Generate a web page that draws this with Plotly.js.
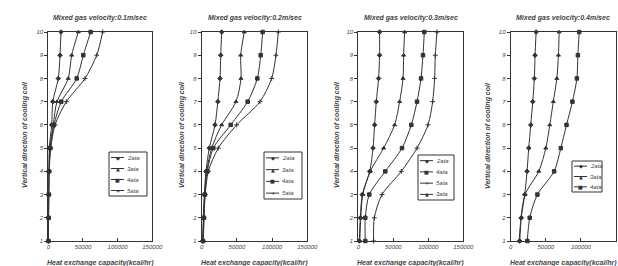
<!DOCTYPE html>
<html><head><meta charset="utf-8">
<script src="https://cdn.plot.ly/plotly-3.0.1.min.js"></script>
<style>html,body{margin:0;padding:0;background:#fff;}#chart{width:618px;height:266px;}</style>
</head><body><div id="chart"></div>
<script>
// ---------- data ----------
const coilPositions = [1, 2, 3, 4, 5, 6, 7, 8, 9, 10];
const xTickValues = [0, 50000, 100000, 150000];
const xTickLabels = ['0', '50000', '100000', '150000'];
const yTickValues = [1, 2, 3, 4, 5, 6, 7, 8, 9, 10];
const panelTitles = ['Mixed gas velocity:0.1m/sec', 'Mixed gas velocity:0.2m/sec',
                     'Mixed gas velocity:0.3m/sec', 'Mixed gas velocity:0.4m/sec'];
const xAxisTitle = 'Heat exchange capacity(kcal/hr)';
const yAxisTitle = 'Vertical direction of cooling coil';

// panel 1: 0.1 m/sec
const p1Names = ['2ata', '3ata', '4ata', '5ata'];
const p1_2ata = [200, 300, 400, 700, 1400, 4900, 6500, 14400, 16900, 18300];
const p1_3ata = [200, 300, 500, 900, 2200, 7200, 12500, 28800, 33700, 43300];
const p1_4ata = [200, 400, 600, 1100, 2900, 8200, 18700, 41000, 50500, 61100];
const p1_5ata = [200, 400, 700, 1300, 3600, 9700, 26000, 52900, 69800, 78400];

// panel 2: 0.2 m/sec
const p2Names = ['2ata', '3ata', '4ata', '5ata'];
const p2_2ata = [1400, 2300, 3700, 6100, 10800, 18900, 22900, 26000, 27000, 28400];
const p2_3ata = [1700, 2800, 4300, 7100, 14200, 28400, 48700, 55800, 55400, 60500];
const p2_4ata = [2000, 3100, 4500, 8000, 16500, 41200, 65300, 79000, 83800, 86600];
const p2_5ata = [2300, 3400, 5000, 9400, 23600, 49700, 82800, 99400, 105500, 108800];

// panel 3: 0.3 m/sec (legend order as in the original)
const p3Names = ['2ata', '4ata', '5ata', '3ata'];
const p3_2ata = [1400, 2900, 5700, 16400, 21000, 23300, 25700, 29000, 30400, 30400];
const p3_4ata = [10000, 10000, 15700, 38600, 62400, 75700, 83900, 89600, 92400, 94300];
const p3_5ata = [21900, 22900, 33900, 61400, 83900, 99600, 106200, 109000, 110000, 112400];
const p3_3ata = [2100, 3600, 6400, 17100, 36200, 51900, 59000, 63900, 64700, 66200];

// panel 4: 0.4 m/sec
const p4Names = ['2ata', '3ata', '4ata'];
const p4_2ata = [12900, 15100, 20000, 23300, 25700, 28600, 31400, 33700, 34700, 36200];
const p4_3ata = [12100, 14700, 20400, 40000, 50000, 55700, 60700, 65700, 68000, 69000];
const p4_4ata = [23700, 27100, 38000, 61900, 71400, 79500, 87900, 94300, 95700, 97600];

// ---------- styling ----------
const W = 618, H = 266, MT = 32, MB = 25;
const px2x = px => px / W;
const py2y = py => (H - MB - py) / (H - MT - MB);
const ink = '#333', txt = '#444';
const fam = 'Liberation Sans, Arial, sans-serif';
const symbols = {'2ata': 'diamond', '3ata': 'triangle-up', '4ata': 'square', '5ata': 'cross-thin-open'};
const glyphs = {'2ata': '◆', '3ata': '▲', '4ata': '■', '5ata': '+'};

const panels = [
  {names: p1Names, series: [p1_2ata, p1_3ata, p1_4ata, p1_5ata], dom: [48.3, 152.3], ytx: 25,
   leg: [109, 152, 147, 196]},
  {names: p2Names, series: [p2_2ata, p2_3ata, p2_4ata, p2_5ata], dom: [201.7, 307.3], ytx: 182,
   leg: [264, 152, 302, 199]},
  {names: p3Names, series: [p3_2ata, p3_4ata, p3_5ata, p3_3ata], dom: [358.3, 463.3], ytx: 337,
   leg: [418, 155, 454, 200]},
  {names: p4Names, series: [p4_2ata, p4_3ata, p4_4ata], dom: [510.7, 616], ytx: 488,
   leg: [572, 161, 602, 192]}
];

const traces = [], shapes = [], annotations = [];
const layout = {
  width: W, height: H, margin: {l: 0, r: 0, t: MT, b: MB},
  paper_bgcolor: '#fff', plot_bgcolor: '#fff', showlegend: false,
  font: {family: fam, color: txt, size: 6}
};
const ann = (o) => Object.assign({xref: 'paper', yref: 'paper', showarrow: false,
  xanchor: 'center', yanchor: 'middle', borderpad: 0}, o);

panels.forEach((p, i) => {
  const n = i + 1;
  const xk = 'xaxis' + (n === 1 ? '' : n), yk = 'yaxis' + (n === 1 ? '' : n);
  const xr = 'x' + (n === 1 ? '' : n), yr = 'y' + (n === 1 ? '' : n);
  layout[xk] = {
    domain: [px2x(p.dom[0]), px2x(p.dom[1])], anchor: yr, range: [0, 150000],
    tickvals: xTickValues, ticktext: xTickLabels, ticks: 'inside', ticklen: 3, tickcolor: ink,
    showline: true, mirror: true, linecolor: ink, linewidth: 1, showgrid: false, zeroline: false,
    tickfont: {size: 6, style: 'italic', color: txt}
  };
  layout[yk] = {
    domain: [0, 1], anchor: xr, range: [1, 10], tickvals: yTickValues,
    ticks: 'outside', ticklen: 3, tickcolor: ink,
    showline: true, mirror: true, linecolor: ink, linewidth: 1, showgrid: false, zeroline: false,
    tickfont: {size: 6, style: 'italic', color: txt}
  };
  p.names.forEach((nm, k) => {
    traces.push({
      type: 'scatter', mode: 'lines+markers', x: p.series[k], y: coilPositions, name: nm,
      xaxis: xr, yaxis: yr, cliponaxis: false,
      line: {color: ink, width: 1, shape: 'spline', smoothing: 0.8},
      marker: {symbol: symbols[nm], size: 3.5, color: ink, line: {color: ink, width: 1}}
    });
  });
  const cx = (p.dom[0] + p.dom[1]) / 2;
  const tf = {size: 7, style: 'italic', weight: 'bold', color: txt};
  annotations.push(ann({text: panelTitles[i], x: px2x(cx), y: py2y(18), font: tf}));
  annotations.push(ann({text: xAxisTitle, x: px2x(cx), y: py2y(263), font: tf}));
  annotations.push(ann({text: yAxisTitle, x: px2x(p.ytx), y: py2y(135), textangle: -90, font: tf}));
  // legend box
  const [lx0, ly0, lx1, ly1] = p.leg;
  shapes.push({type: 'rect', xref: 'paper', yref: 'paper', x0: px2x(lx0), x1: px2x(lx1),
    y0: py2y(ly0), y1: py2y(ly1), line: {color: ink, width: 1}, fillcolor: '#fff', layer: 'above'});
  const rows = p.names.length, step = (ly1 - ly0) / rows;
  p.names.forEach((nm, k) => {
    const ry = ly0 + step * (k + 0.5);
    shapes.push({type: 'line', xref: 'paper', yref: 'paper', x0: px2x(lx0 + 2), x1: px2x(lx0 + 15),
      y0: py2y(ry), y1: py2y(ry), line: {color: ink, width: 1}, layer: 'above'});
    annotations.push(ann({text: glyphs[nm], x: px2x(lx0 + 8.5), y: py2y(ry),
      font: {size: 5, color: ink, family: 'DejaVu Sans'}}));
    annotations.push(ann({text: nm, x: px2x(lx0 + 17), y: py2y(ry), xanchor: 'left',
      font: {size: 6, style: 'italic', color: txt}}));
  });
});
layout.shapes = shapes;
layout.annotations = annotations;
Plotly.newPlot('chart', traces, layout, {displayModeBar: false, staticPlot: true});
</script></body></html>
